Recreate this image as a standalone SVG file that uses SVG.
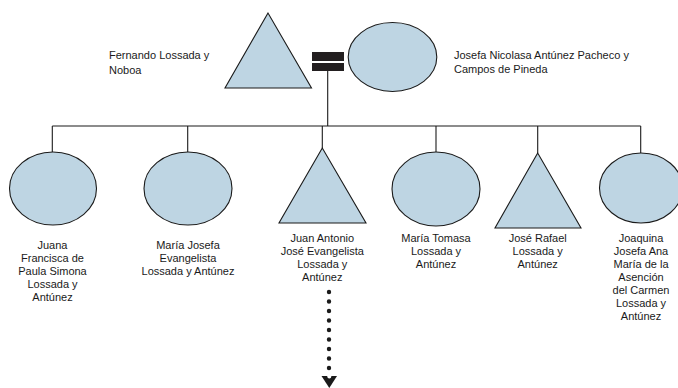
<svg xmlns="http://www.w3.org/2000/svg" width="678" height="388" viewBox="0 0 678 388">
  <style>
    .shape { fill: #bed5e3; stroke: #1a1a1a; stroke-width: 1.1; }
    .line { stroke: #1a1a1a; stroke-width: 1.1; fill: none; }
    .label { font-family: "Liberation Sans", Arial, sans-serif; font-size: 11px; fill: #1a1a1a; }
    .mid { text-anchor: middle; }
  </style>
  <rect width="678" height="388" fill="#ffffff"/>

  <!-- connectors -->
  <g id="connectors">
    <line class="line" x1="327.7" y1="71" x2="327.7" y2="126"/>
    <line class="line" x1="52.3" y1="126" x2="640.7" y2="126"/>
    <line class="line" x1="52.3" y1="126" x2="52.3" y2="152"/>
    <line class="line" x1="187.7" y1="126" x2="187.7" y2="152"/>
    <line class="line" x1="322.3" y1="126" x2="322.3" y2="148"/>
    <line class="line" x1="436" y1="126" x2="436" y2="152"/>
    <line class="line" x1="537.7" y1="126" x2="537.7" y2="153"/>
    <line class="line" x1="640.7" y1="126" x2="640.7" y2="153"/>
    <!-- descent line -->
    <line x1="329" y1="292" x2="329" y2="369" stroke="#1a1a1a" stroke-width="4.4" stroke-linecap="round" stroke-dasharray="0 9.5"/>
    <polygon points="321.5,376 337,376 329.3,388" fill="#1a1a1a"/>
    <circle cx="329.3" cy="376.5" r="2" fill="#ffffff"/>
  </g>

  <!-- marriage bars -->
  <g id="marriage">
    <rect x="312" y="52" width="32" height="9" fill="#231f20"/>
    <rect x="312" y="63" width="32" height="8" fill="#231f20"/>
  </g>

  <g id="father">
    <polygon class="shape" points="268,13 225,88 311.5,88"/>
    <text class="label" x="109" y="59">Fernando Lossada y</text>
    <text class="label" x="109" y="74">Noboa</text>
  </g>

  <g id="mother">
    <ellipse class="shape" cx="392.5" cy="57" rx="44.3" ry="34.5"/>
    <text class="label" x="454" y="59">Josefa Nicolasa Antúnez Pacheco y</text>
    <text class="label" x="454" y="72.5">Campos de Pineda</text>
  </g>

  <g id="child1">
    <ellipse class="shape" cx="53" cy="188.5" rx="43.5" ry="36.5"/>
    <text class="label mid" x="52.5" y="249">Juana</text>
    <text class="label mid" x="52.5" y="262">Francisca de</text>
    <text class="label mid" x="52.5" y="275">Paula Simona</text>
    <text class="label mid" x="52.5" y="288">Lossada y</text>
    <text class="label mid" x="52.5" y="301">Antúnez</text>
  </g>

  <g id="child2">
    <ellipse class="shape" cx="188" cy="188.5" rx="44" ry="36.5"/>
    <text class="label mid" x="188" y="249">María Josefa</text>
    <text class="label mid" x="188" y="262">Evangelista</text>
    <text class="label mid" x="188" y="275">Lossada y Antúnez</text>
  </g>

  <g id="child3">
    <polygon class="shape" points="322.3,148 279,223 366,223"/>
    <text class="label mid" x="322.3" y="242">Juan Antonio</text>
    <text class="label mid" x="322.3" y="255">José Evangelista</text>
    <text class="label mid" x="322.3" y="268">Lossada y</text>
    <text class="label mid" x="322.3" y="281">Antúnez</text>
  </g>

  <g id="child4">
    <ellipse class="shape" cx="436" cy="189" rx="44" ry="37"/>
    <text class="label mid" x="436" y="242">María Tomasa</text>
    <text class="label mid" x="436" y="255">Lossada y</text>
    <text class="label mid" x="436" y="268">Antúnez</text>
  </g>

  <g id="child5">
    <polygon class="shape" points="537.7,153 495,228 581,228"/>
    <text class="label mid" x="537.7" y="242">José Rafael</text>
    <text class="label mid" x="537.7" y="255">Lossada y</text>
    <text class="label mid" x="537.7" y="268">Antúnez</text>
  </g>

  <g id="child6">
    <ellipse class="shape" cx="641" cy="188" rx="41.5" ry="35"/>
    <text class="label mid" x="641" y="242">Joaquina</text>
    <text class="label mid" x="641" y="255">Josefa Ana</text>
    <text class="label mid" x="641" y="268">María de la</text>
    <text class="label mid" x="641" y="281">Asención</text>
    <text class="label mid" x="641" y="294">del Carmen</text>
    <text class="label mid" x="641" y="307">Lossada y</text>
    <text class="label mid" x="641" y="320">Antúnez</text>
  </g>
</svg>
